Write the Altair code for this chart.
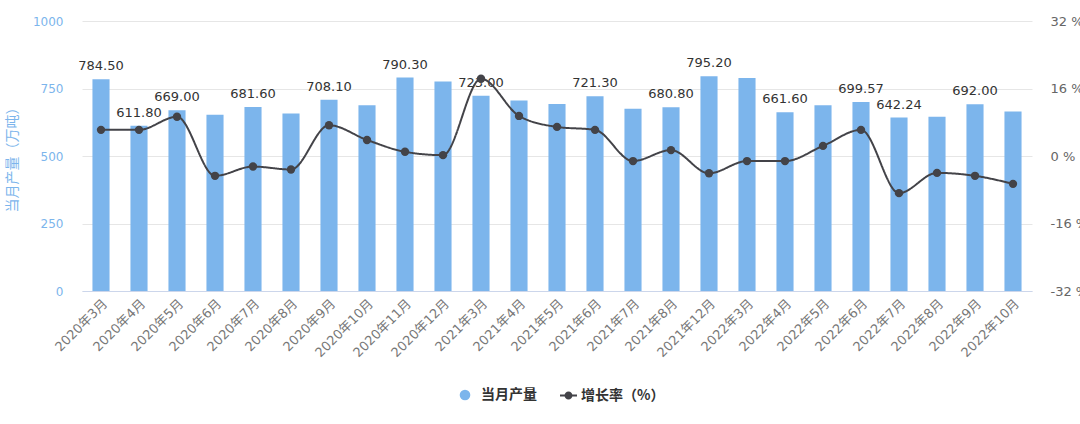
import altair as alt
import pandas as pd

months = ["2020年3月", "2020年4月", "2020年5月", "2020年6月", "2020年7月", "2020年8月",
          "2020年9月", "2020年10月", "2020年11月", "2020年12月", "2021年3月", "2021年4月",
          "2021年5月", "2021年6月", "2021年7月", "2021年8月", "2021年12月", "2022年3月",
          "2022年4月", "2022年5月", "2022年6月", "2022年7月", "2022年8月", "2022年9月",
          "2022年10月"]
output = [784.50, 611.80, 669.00, 653.0, 681.60, 657.0, 708.10, 688.0, 790.30, 776.0,
          723.00, 706.0, 693.0, 721.30, 675.0, 680.80, 795.20, 789.0, 661.60, 688.0,
          699.57, 642.24, 645.0, 692.00, 665.0]
growth = [6.2, 6.2, 9.3, -4.7, -2.5, -3.2, 7.3, 3.8, 1.0, 0.2, 18.3, 9.5, 6.9, 6.2,
          -1.2, 1.4, -4.1, -1.2, -1.2, 2.4, 6.2, -8.8, -4.0, -4.7, -6.6]
shown = [True, True, True, False, True, False, True, False, True, False, True, False,
         False, True, False, True, True, False, True, False, True, True, False, True, False]

bar_name = "当月产量"
line_name = "增长率（%）"
bar_color = "#7cb5ec"
line_color = "#434348"

df = pd.DataFrame({
    "month": months,
    "output": output,
    "growth": growth,
    "label": [f"{v:.2f}" if s else "" for v, s in zip(output, shown)],
    "s1": bar_name,
    "s2": line_name,
})

FONT = "DejaVu Sans, Noto Sans CJK SC"
CJK = "Noto Sans CJK SC"

# legend symbol: a short bar with a dot, drawn as one filled path
line_path = ("M-1,-0.12L1,-0.12L1,0.12L-1,0.12Z "
             "M0.47,0A0.47,0.47,0,1,1,-0.47,0A0.47,0.47,0,1,1,0.47,0Z")

bar_legend = alt.Legend(
    title=None, orient="none", legendX=376, legendY=367, direction="horizontal",
    symbolType="circle", symbolSize=113, labelOffset=9, labelFontSize=14,
    labelFont=CJK, labelFontWeight="bold", labelColor="#333333",
)
line_legend = alt.Legend(
    title=None, orient="none", legendX=478, legendY=366, direction="horizontal",
    symbolType=line_path, symbolSize=289, labelOffset=4, labelFontSize=14,
    labelFont=CJK, labelFontWeight="bold", labelColor="#333333",
    symbolStrokeColor=line_color, symbolFillColor=line_color, symbolStrokeWidth=0,
)

x = alt.X(
    "month:N",
    sort=months,
    scale=alt.Scale(paddingInner=0.55, paddingOuter=0.275),
    axis=alt.Axis(
        title=None, labelAngle=-45, labelColor="#777777", labelFontSize=13,
        domainColor="#ccd6eb", ticks=False, labelPadding=6, labelFont=FONT,
    ),
)

y_left = alt.Y(
    "output:Q",
    scale=alt.Scale(domain=[0, 1000]),
    axis=alt.Axis(
        values=[0, 250, 500, 750, 1000], format="d", title="当月产量（万吨）",
        titleColor=bar_color, titleFont=CJK, titleFontSize=14,
        titleFontWeight="normal", titleX=-70, titleY=135, titleAlign="center",
        titleBaseline="middle", labelColor=bar_color, labelFontSize=12,
        labelFont=FONT, grid=True, gridColor="#e6e6e6", domain=False, ticks=False,
        labelPadding=19,
    ),
)

bars = alt.Chart(df).mark_bar().encode(
    x=x,
    y=y_left,
    color=alt.Color("s1:N", scale=alt.Scale(domain=[bar_name], range=[bar_color]),
                    legend=bar_legend),
)

texts = alt.Chart(df).mark_text(
    baseline="bottom", dy=-6, fontSize=13, color="#333333", font=FONT
).encode(
    x=alt.X("month:N", sort=months),
    y=alt.Y("output:Q"),
    text="label:N",
)

left = alt.layer(bars, texts)

line = alt.Chart(df).mark_line(
    interpolate="monotone", strokeWidth=2, color=line_color,
    point=alt.OverlayMarkDef(size=70, filled=True, opacity=1, color=line_color),
).encode(
    x=alt.X("month:N", sort=months),
    y=alt.Y(
        "growth:Q",
        scale=alt.Scale(domain=[-32, 32]),
        axis=alt.Axis(
            orient="right", values=[-32, -16, 0, 16, 32],
            labelExpr="datum.value + ' %'", labelColor="#666666", labelFontSize=13,
            labelFont=FONT, domain=False, ticks=False, grid=False, labelPadding=18,
            title=None, labelAlign="left",
        ),
    ),
    strokeDash=alt.StrokeDash("s2:N", scale=alt.Scale(domain=[line_name], range=[[1, 0]]),
                              legend=line_legend),
)

chart = alt.layer(left, line).resolve_scale(y="independent").properties(
    width=950,
    height=270,
    autosize=alt.AutoSizeParams(type="none"),
    padding={"left": 82, "right": 48, "top": 21, "bottom": 133},
    background="white",
).configure_view(stroke=None)

chart.save("out.html", embed_options={"renderer": "svg", "actions": False})
